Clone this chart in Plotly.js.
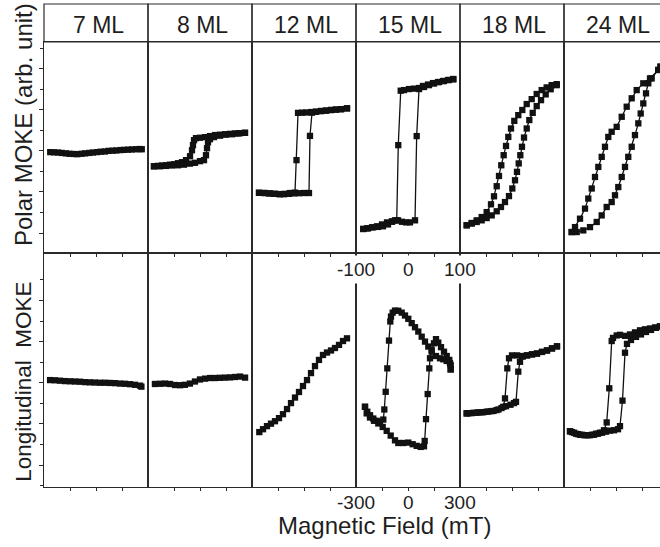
<!DOCTYPE html>
<html>
<head>
<meta charset="utf-8">
<script src="https://cdn.plot.ly/plotly-3.0.1.min.js"></script>
<style>
  html, body { margin: 0; padding: 0; background: #ffffff; overflow: hidden; }
  #chart { width: 668px; height: 547px; }
</style>
</head>
<body>
<div id="chart"></div>
<script>
// Film thickness of each column
const thickness = ['7 ML', '8 ML', '12 ML', '15 ML', '18 ML', '24 ML'];

// Field tick labels (mT) printed under the 15 ML column
const polarFieldTicks = [-100, 0, 100];
const longFieldTicks = [-300, 0, 300];

// ---- Polar MOKE: field H (mT), Kerr signal K (arb. unit) ----
const p7H = [-88, -81, -73, -66, -58, -51, -43, -36, -28, -21, -13, -6, 2, 9, 17, 24, 32, 39, 47, 54, 62, 69, 77, 84, 88];
const p7K = [-0.06, -0.07, -0.08, -0.1, -0.12, -0.14, -0.15, -0.16, -0.14, -0.12, -0.1, -0.08, -0.06, -0.04, -0.03, 0, 0.01, 0.02, 0.04, 0.05, 0.06, 0.07, 0.08, 0.09, 0.08];

const p8DownH = [86.5, 76.9, 67.3, 57.7, 48.1, 38.5, 28.8, 19.2, 9.6, 0, -7.7, -11.5, -13.5, -15.4, -19.2, -26.9, -34.6, -42.3, -50, -57.7, -65.4, -73.1, -80.8, -88.5];
const p8DownK = [0.88, 0.86, 0.85, 0.83, 0.81, 0.79, 0.77, 0.72, 0.67, 0.64, 0.62, 0.52, 0.28, 0.03, -0.26, -0.45, -0.55, -0.6, -0.65, -0.67, -0.7, -0.71, -0.73, -0.75];
const p8UpH = [-88.5, -76.9, -65.4, -53.8, -42.3, -30.8, -19.2, -9.6, 0, 7.7, 11.5, 13.5, 15.4, 19.2, 26.9, 38.5, 50, 61.5, 73.1, 86.5];
const p8UpK = [-0.75, -0.75, -0.73, -0.71, -0.7, -0.67, -0.62, -0.58, -0.5, -0.45, -0.21, 0.13, 0.42, 0.57, 0.67, 0.74, 0.79, 0.81, 0.85, 0.88];

const p12DownH = [82.7, 71.2, 61.5, 51.9, 42.3, 32.7, 23.1, 13.5, 3.8, -3.8, -11.5, -14.4, -17.3, -26.9, -36.5, -46.2, -55.8, -65.4, -75, -86.5];
const p12DownK = [2.07, 2.03, 2.01, 1.99, 1.96, 1.94, 1.91, 1.89, 1.87, 1.86, 1.85, -0.45, -2.03, -2.05, -2.09, -2.11, -2.09, -2.07, -2.05, -2.04];
const p12UpH = [-86.5, -76.9, -67.3, -57.7, -48.1, -38.5, -28.8, -19.2, -9.6, 0, 9.6, 11.5, 15.4, 23.1, 32.7, 42.3, 51.9, 61.5, 71.2, 82.7];
const p12UpK = [-2.04, -2.05, -2.07, -2.09, -2.1, -2.11, -2.09, -2.07, -2.06, -2.05, -2.05, 0.73, 1.86, 1.9, 1.94, 1.96, 1.99, 2.01, 2.03, 2.07];

const p15DownH = [87.1, 76.9, 67.3, 57.7, 48.1, 38.5, 28.8, 21.2, 11.5, 1.9, -7.7, -14, -18.7, -21.7, -30.8, -40.4, -50, -59.6, -69.2, -78.8, -86];
const p15DownK = [3.48, 3.45, 3.4, 3.35, 3.3, 3.23, 3.16, 3.06, 3.03, 3.01, 2.96, 2.93, 0.28, -3.38, -3.43, -3.48, -3.58, -3.67, -3.72, -3.77, -3.8];
const p15UpH = [-86, -76.9, -67.3, -57.7, -48.1, -38.5, -30.8, -25, -19.2, -11.5, -3.8, 3.8, 13.5, 16.7, 21.2, 30.8, 40.4, 50, 59.6, 69.2, 78.8, 87.1];
const p15UpK = [-3.8, -3.77, -3.72, -3.7, -3.67, -3.58, -3.45, -3.38, -3.38, -3.45, -3.48, -3.48, -3.38, 0.72, 3.01, 3.11, 3.2, 3.28, 3.35, 3.4, 3.45, 3.5];

const p18DownH = [86, 76.3, 66.7, 57.1, 47.5, 37.9, 28.3, 19.8, 12.1, 4.4, -1.9, -7.1, -11.5, -16, -20.6, -25, -29.4, -34.6, -40.4, -48.7, -58.3, -67.9, -77.5, -87.1];
const p18DownK = [3.25, 3.2, 3.09, 2.96, 2.77, 2.52, 2.28, 1.99, 1.74, 1.46, 1.09, 0.68, 0.24, -0.21, -0.7, -1.22, -1.72, -2.21, -2.6, -2.98, -3.22, -3.38, -3.51, -3.62];
const p18UpH = [-87.1, -77.5, -67.9, -58.3, -48.7, -39, -29.4, -21.2, -13.5, -5.8, 0.6, 5.8, 9.6, 12.9, 16, 19.2, 23.1, 28.3, 33.3, 39.8, 47.5, 55.8, 64.8, 74.4, 86];
const p18UpK = [-3.62, -3.54, -3.46, -3.38, -3.27, -3.14, -2.94, -2.73, -2.49, -2.2, -1.83, -1.43, -1.02, -0.61, -0.21, 0.2, 0.65, 1.09, 1.5, 1.85, 2.18, 2.47, 2.75, 3, 3.2];

const p24DownH = [85.6, 81.3, 65.4, 52.5, 39.8, 30.2, 20.6, 11, 1.3, -8.3, -14.8, -21.2, -27.5, -34, -40.4, -46.7, -53.3, -59.6, -69.2, -78.8, -85.2];
const p24DownK = [4.1, 3.94, 3.53, 3.29, 2.96, 2.56, 2.15, 1.66, 1.17, 0.93, 0.68, 0.2, -0.29, -0.78, -1.27, -1.83, -2.32, -2.81, -3.3, -3.71, -3.95];
const p24UpH = [-85.2, -75.6, -62.9, -50, -37.1, -27.5, -17.9, -8.3, -1.9, 4.4, 11, 17.3, 23.6, 30.2, 36.5, 42.9, 47.5, 52.5, 57.7, 62.1, 68.6, 81.3, 85.6];
const p24UpK = [-3.95, -3.95, -3.87, -3.71, -3.46, -3.14, -2.73, -2.49, -2.16, -1.76, -1.27, -0.78, -0.29, 0.2, 0.77, 1.34, 1.82, 2.31, 2.8, 3.29, 3.53, 3.94, 4.1];

// ---- Longitudinal MOKE: field H (mT), Kerr signal K (arb. unit) ----
const l7H = [-265, -237, -208, -179, -150, -121, -92, -63, -35, -6, 23, 52, 81, 110, 139, 167, 196, 225, 254, 262];
const l7K = [0.13, 0.12, 0.1, 0.08, 0.07, 0.06, 0.05, 0.03, 0.02, 0.01, 0, 0, -0.01, -0.02, -0.04, -0.05, -0.07, -0.1, -0.14, -0.19];

const l8H = [-260, -231, -202, -173, -144, -115, -87, -58, -29, 0, 29, 58, 87, 115, 144, 173, 202, 231, 260];
const l8K = [-0.06, -0.05, -0.04, -0.06, -0.11, -0.12, -0.1, -0.04, 0.06, 0.16, 0.2, 0.23, 0.23, 0.24, 0.25, 0.26, 0.28, 0.3, 0.25];

const l12H = [-257.9, -236.5, -213.5, -190.4, -167.3, -144.2, -121.2, -98.1, -75, -51.9, -28.9, -5.8, 17.3, 40.4, 63.4, 86.5, 109.6, 132.7, 155.8, 178.8, 201.9, 225, 248.1];
const l12K = [-2.4, -2.26, -2.11, -1.99, -1.87, -1.72, -1.53, -1.28, -0.99, -0.72, -0.45, -0.16, 0.13, 0.47, 0.81, 1.11, 1.35, 1.47, 1.57, 1.69, 1.84, 2.03, 2.16];

const l15DownH = [246.3, 242.3, 223.3, 203.6, 184.6, 161.5, 136.7, 117.1, 98.1, 79, 59.4, 40.4, 21.3, 1.7, -17.3, -36.4, -56, -75, -88.3, -98.1, -102.1, -109.6, -119.4, -128.7, -136.7, -142.5, -161.5, -180.6, -200.2, -219.2, -234.8, -248.1];
const l15DownK = [0.65, 0.95, 1.06, 1.14, 1.19, 1.3, 1.51, 1.76, 2, 2.24, 2.49, 2.7, 2.9, 3.11, 3.27, 3.41, 3.5, 3.51, 3.41, 3.22, 2.98, 2.05, 0.7, -0.44, -1.3, -1.79, -1.9, -1.85, -1.74, -1.58, -1.41, -1.17];
const l15UpH = [-248.1, -238.3, -219.2, -196.2, -171.3, -146, -122.9, -99.8, -75, -56, -27.1, 1.7, 27.1, 50.2, 73.3, 92.3, 96.3, 103.8, 113.6, 122.9, 126.9, 136.7, 150, 161.5, 174.8, 190.4, 207.7, 223.3, 238.3, 246.3, 246.3];
const l15UpK = [-1.17, -1.49, -1.69, -1.85, -1.98, -2.15, -2.34, -2.57, -2.8, -2.93, -2.93, -2.91, -2.99, -3.07, -3.12, -3.09, -2.83, -1.77, -0.55, 0.7, 1.19, 1.6, 1.92, 2.12, 1.95, 1.73, 1.51, 1.3, 1.11, 0.86, 0.65];

const l18DownH = [259.6, 230.7, 201.9, 173.1, 144.2, 115.4, 86.5, 57.7, 28.8, 0, -17.3, -27.1, -40.4, -50.2, -77.9, -106.7, -135.6, -164.4, -193.3, -222.1, -251, -261.3];
const l18DownK = [1.77, 1.67, 1.57, 1.5, 1.42, 1.38, 1.33, 1.3, 1.33, 1.33, 1.19, 0.7, -0.76, -1.17, -1.3, -1.37, -1.4, -1.43, -1.44, -1.46, -1.48, -1.49];
const l18UpH = [-261.3, -233.7, -204.8, -176, -147.1, -118.3, -89.4, -60.6, -34.6, -8.7, 11.5, 23.1, 36.3, 46.1, 61.7, 86.5, 115.4, 144.2, 173.1, 201.9, 230.7, 259.6];
const l18UpK = [-1.49, -1.48, -1.46, -1.44, -1.41, -1.38, -1.33, -1.23, -1.14, -1.07, -0.99, -0.93, 0.54, 1.02, 1.27, 1.33, 1.38, 1.42, 1.5, 1.57, 1.67, 1.77];

const l24DownH = [253.8, 225, 196.2, 167.3, 138.5, 109.6, 80.8, 51.9, 23.1, 4, -17.3, -24.8, -38.7, -53.7, -69.2, -92.3, -115.4, -138.5, -161.5, -184.6, -207.7, -230.8, -253.8, -265.4];
const l24DownK = [2.74, 2.69, 2.64, 2.6, 2.55, 2.45, 2.35, 2.28, 2.33, 2.3, 2.18, 2.03, -0.27, -1.93, -2.31, -2.43, -2.48, -2.53, -2.55, -2.55, -2.53, -2.48, -2.4, -2.36];
const l24UpH = [-265.4, -242.3, -219.2, -196.2, -173.1, -150, -126.9, -103.8, -80.8, -57.7, -34.6, -11.5, 11.5, 23.1, 37.5, 51.9, 63.4, 86.5, 115.4, 144.2, 173.1, 201.9, 230.8, 253.8];
const l24UpK = [-2.36, -2.43, -2.5, -2.53, -2.55, -2.55, -2.53, -2.48, -2.43, -2.38, -2.33, -2.31, -2.26, -2.11, -0.87, 1.46, 1.89, 2.08, 2.23, 2.35, 2.47, 2.57, 2.67, 2.74];

// One loop per panel (down sweep followed by up sweep)
const polarLoops = [
  [p7H, p7K],
  [p8DownH.concat(p8UpH), p8DownK.concat(p8UpK)],
  [p12DownH.concat(p12UpH), p12DownK.concat(p12UpK)],
  [p15DownH.concat(p15UpH), p15DownK.concat(p15UpK)],
  [p18DownH.concat(p18UpH), p18DownK.concat(p18UpK)],
  [p24DownH.concat(p24UpH), p24DownK.concat(p24UpK)]
];
const longLoops = [
  [l7H, l7K],
  [l8H, l8K],
  [l12H, l12K],
  [l15DownH.concat(l15UpH), l15DownK.concat(l15UpK)],
  [l18DownH.concat(l18UpH), l18DownK.concat(l18UpK)],
  [l24DownH.concat(l24UpH), l24DownK.concat(l24UpK)]
];

// ---- geometry ----
const W = 668, Ht = 547;
const M = {l: 44, r: 0, t: 4, b: 60};
const plotW = W - M.l - M.r, plotH = Ht - M.t - M.b;
const pyToPaper = py => 1 - (py - M.t) / plotH;
const pxToPaper = px => (px - M.l) / plotW;

const headerBottom = pyToPaper(42);
const rowSplit = pyToPaper(253);

const ink = '#1e1e1e';
const frame = '#2a2a2a';
const font = 'Liberation Sans, Arial, Helvetica, sans-serif';

const rows = [
  {loops: polarLoops, domain: [rowSplit, headerBottom], xr: [-100, 100], xt: [-50, 0, 50], yr: [-4.97, 5.3], offset: 0},
  {loops: longLoops, domain: [0, rowSplit], xr: [-300, 300], xt: [-150, 0, 150], yr: [-5.07, 6.31], offset: 6}
];

const yMajor = [-4, -2, 0, 2, 4];
const yMinor = [-5, -3, -1, 1, 3, 5];

const layout = {
  width: W, height: Ht,
  margin: M,
  paper_bgcolor: '#ffffff', plot_bgcolor: '#ffffff',
  showlegend: false,
  font: {family: font, color: ink},
  shapes: [], annotations: []
};
const traces = [];

rows.forEach(row => {
  for (let j = 0; j < 6; j++) {
    const k = row.offset + j + 1;
    const xName = 'xaxis' + (k === 1 ? '' : k), yName = 'yaxis' + (k === 1 ? '' : k);
    const xId = 'x' + (k === 1 ? '' : k), yId = 'y' + (k === 1 ? '' : k);
    layout[xName] = {
      domain: [j / 6, (j + 1) / 6], anchor: yId, range: row.xr,
      showline: true, mirror: true, linecolor: frame, linewidth: 1.2,
      ticks: 'outside', tickmode: 'array', tickvals: row.xt, ticklen: 3, tickwidth: 1, tickcolor: frame,
      showticklabels: false, showgrid: false, zeroline: false, fixedrange: true
    };
    const yax = {
      domain: row.domain, anchor: xId, range: row.yr,
      showline: true, mirror: true, linecolor: frame, linewidth: 1.2,
      showticklabels: false, showgrid: false, zeroline: false, fixedrange: true
    };
    if (j === 0) {
      Object.assign(yax, {
        ticks: 'outside', tickmode: 'array', tickvals: yMajor, ticklen: 4, tickwidth: 1, tickcolor: frame,
        minor: {ticks: 'outside', tickmode: 'array', tickvals: yMinor, ticklen: 2.5, tickwidth: 1, tickcolor: frame}
      });
    } else {
      yax.ticks = '';
    }
    layout[yName] = yax;

    const loop = row.loops[j];
    traces.push({
      type: 'scatter', mode: 'lines+markers', x: loop[0], y: loop[1],
      xaxis: xId, yaxis: yId, hoverinfo: 'skip', showlegend: false,
      line: {color: '#111111', width: 1.3},
      marker: {symbol: 'square', size: 6.3, color: '#111111', line: {width: 0}}
    });
  }
});

// Header boxes with thickness labels
thickness.forEach((label, j) => {
  const ref = 'x' + (j === 0 ? '' : j + 1) + ' domain';
  layout.shapes.push({
    type: 'rect', xref: ref, x0: 0, x1: 1, yref: 'paper', y0: headerBottom, y1: 1,
    line: {color: frame, width: 1.2}, fillcolor: 'rgba(0,0,0,0)'
  });
  layout.annotations.push({
    xref: ref, x: 0.5, xshift: 2, yref: 'paper', y: pyToPaper(25), yanchor: 'middle',
    text: label, showarrow: false, font: {size: 23, color: ink, family: font}
  });
});

// Field tick labels on the 15 ML column
polarFieldTicks.forEach(v => layout.annotations.push({
  xref: 'x4', x: v, yref: 'paper', y: pyToPaper(269), xanchor: 'center', yanchor: 'middle',
  text: String(v), showarrow: false, bgcolor: '#ffffff', borderpad: 3,
  font: {size: 19, color: ink, family: font}
}));
longFieldTicks.forEach(v => layout.annotations.push({
  xref: 'x10', x: v, yref: 'paper', y: pyToPaper(502.5), xanchor: 'center', yanchor: 'middle',
  text: String(v), showarrow: false, borderpad: 0, borderwidth: 0,
  font: {size: 19, color: ink, family: font}
}));

// Axis titles
layout.annotations.push({
  xref: 'paper', x: pxToPaper(385), yref: 'paper', y: pyToPaper(525),
  xanchor: 'center', yanchor: 'middle', showarrow: false, borderpad: 0, borderwidth: 0,
  text: 'Magnetic Field (mT)', font: {size: 24, color: ink, family: font}
});
layout.annotations.push({
  xref: 'paper', x: pxToPaper(23), yref: 'paper', y: pyToPaper(125),
  xanchor: 'center', yanchor: 'middle', showarrow: false, textangle: -90,
  text: 'Polar MOKE (arb. unit)', font: {size: 24, color: ink, family: font}
});
layout.annotations.push({
  xref: 'paper', x: pxToPaper(24), yref: 'paper', y: pyToPaper(381.7),
  xanchor: 'center', yanchor: 'middle', showarrow: false, textangle: -90,
  text: 'Longitudinal\u00a0 MOKE', font: {size: 22.5, color: ink, family: font}
});

Plotly.newPlot('chart', traces, layout, {displayModeBar: false, staticPlot: true});
</script>
</body>
</html>
